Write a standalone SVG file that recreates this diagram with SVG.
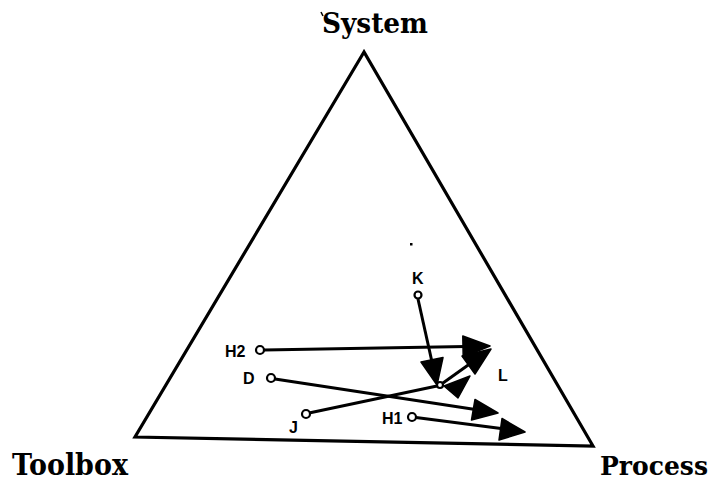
<svg xmlns="http://www.w3.org/2000/svg" width="717" height="488" viewBox="0 0 717 488">
<style>
.title{font-family:'DejaVu Serif','Liberation Serif',serif;font-weight:bold;fill:#000}
.lbl{font-family:'Liberation Sans',Arial,sans-serif;font-weight:bold;font-size:16px;fill:#000}
.pt{fill:#fff;stroke:#000;stroke-width:2.2}
.ln{stroke:#000;stroke-width:3;fill:none}
.ah{fill:#000;stroke:#000;stroke-width:1.5;stroke-linejoin:round}
</style>
<rect width="717" height="488" fill="#fff"/>
<g id="frame">
<polygon points="364,52 135,437 593,446" fill="none" stroke="#000" stroke-width="3.2" stroke-linejoin="miter"/>
<text class="title" font-size="28" x="322" y="33" textLength="106" lengthAdjust="spacingAndGlyphs">System</text>
<line x1="321" y1="12" x2="323" y2="16" stroke="#000" stroke-width="1.5"/>
<text class="title" font-size="29" x="12" y="475" textLength="116" lengthAdjust="spacingAndGlyphs">Toolbox</text>
<text class="title" font-size="26" x="600" y="475" textLength="108" lengthAdjust="spacingAndGlyphs">Process</text>
<rect x="410" y="243" width="2.5" height="2.5" fill="#000"/>
</g>
<g id="connectors">
<line class="ln" x1="418" y1="299" x2="432" y2="362"/>
<polygon class="ah" points="437,385 443,357.5 421,362"/>
<line class="ln" x1="264" y1="350" x2="466" y2="346.4"/>
<polygon class="ah" points="490,346 463.2,357 462.8,336"/>
<line class="ln" x1="275" y1="379" x2="477" y2="409.7"/>
<polygon class="ah" points="498,413 471.5,420 475,399.5"/>
<line class="ln" x1="416" y1="417.5" x2="503" y2="428.8"/>
<polygon class="ah" points="525,432 499,440 502,418.5"/>
<line class="ln" x1="309" y1="413" x2="437" y2="386"/>
<line class="ln" x1="443" y1="383" x2="471" y2="363"/>
<polygon class="ah" points="491,349 475,374 462,356"/>
<polygon class="ah" points="444,386 470,376 458,398"/>
</g>
<g id="node-K"><text class="lbl" x="412" y="284">K</text><circle class="pt" cx="418" cy="295" r="3.5"/></g>
<g id="node-H2"><text class="lbl" x="225" y="357">H2</text><circle class="pt" cx="260" cy="350" r="4"/></g>
<g id="node-D"><text class="lbl" x="243" y="384">D</text><circle class="pt" cx="271" cy="378" r="4"/></g>
<g id="node-J"><text class="lbl" x="289" y="433">J</text><circle class="pt" cx="306" cy="414" r="4"/></g>
<g id="node-H1"><text class="lbl" x="382" y="424">H1</text><circle class="pt" cx="412" cy="417" r="4"/></g>
<g id="node-L"><text class="lbl" x="498" y="381">L</text><circle class="pt" cx="440" cy="385" r="3"/></g>
</svg>
